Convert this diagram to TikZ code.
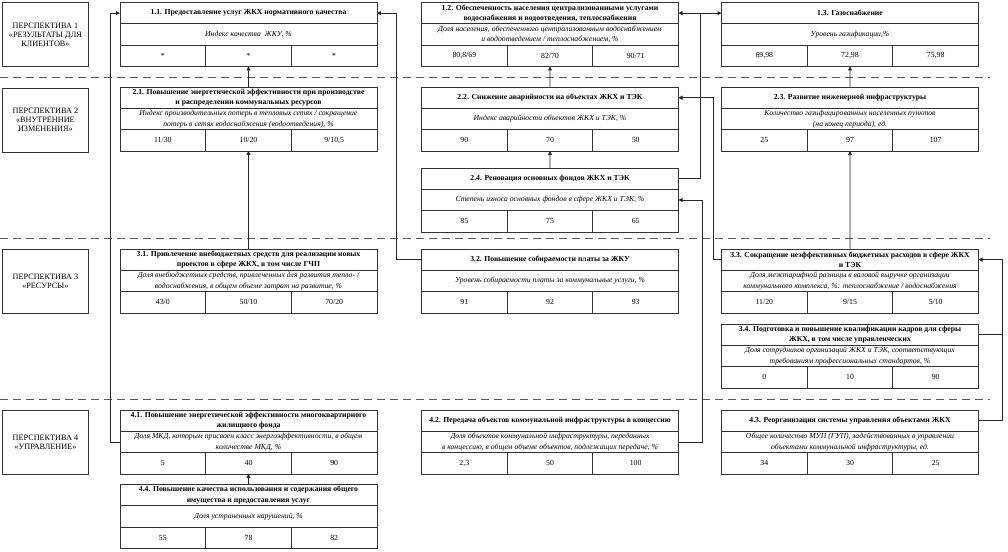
\documentclass[tikz,border=0pt]{standalone}
\usepackage{fontspec}
\setmainfont{Liberation Serif}
\usetikzlibrary{positioning,arrows.meta}

% one goal: title row, indicator row, three target values
\newcommand\kpibox[7]{%
    \node[titlecell, anchor=north west] (#1) at (#2) {#3};
    \node[indcell, below=0pt of #1] (#1-ind) {#4};
    \node[valcell, anchor=north west] (#1-a) at (#1-ind.south west) {#5};
    \node[valcell, right=0pt of #1-a] (#1-b) {#6};
    \node[valcell, right=0pt of #1-b] (#1-c) {#7};
}

\begin{document}
\begin{tikzpicture}[
        x=1pt, y=-1pt,
        titlecell/.style={draw=black!80, line width=0.8pt, minimum width=257pt, minimum height=21.33pt,
            inner sep=1pt, outer sep=0pt, align=center, font=\fontsize{7.7}{10.5}\selectfont\bfseries},
        indcell/.style={titlecell, font=\fontsize{7.7}{10.5}\selectfont\itshape},
        valcell/.style={titlecell, minimum width=85.67pt, font=\fontsize{7.8}{9}\selectfont},
        persp/.style={draw=black!80, line width=0.8pt, minimum width=86pt, minimum height=64pt, anchor=north west,
            inner sep=1pt, align=center, font=\fontsize{8.2}{9}\selectfont},
        sepline/.style={draw=black!65, line width=1pt, dash pattern=on 8pt off 5pt},
        wire/.style={draw=black!85, line width=0.9pt},
        link/.style={wire, -{Triangle[length=4pt,width=4pt]}},
    ]
    \useasboundingbox (0,0) rectangle (1008,551);

    % perspectives
    \node[persp] (p1) at (2,2) {ПЕРСПЕКТИВА 1\\«РЕЗУЛЬТАТЫ ДЛЯ\\КЛИЕНТОВ»};
    \node[persp] (p2) at (2,87.5) {ПЕРСПЕКТИВА 2\\«ВНУТРЕННИЕ\\ИЗМЕНЕНИЯ»};
    \node[persp] (p3) at (2,248.5) {ПЕРСПЕКТИВА 3\\«РЕСУРСЫ»};
    \node[persp] (p4) at (2,409.5) {ПЕРСПЕКТИВА 4\\«УПРАВЛЕНИЕ»};

    \draw[sepline] (0,77) -- (990,77);
    \draw[sepline] (0,238) -- (990,238);
    \draw[sepline] (0,399) -- (990,399);

    % perspective 1
    \kpibox{b11}{120,2.5}{1.1. Предоставление услуг ЖКХ нормативного качества}
        {Индекс качества\ \ ЖКУ, \%}{*}{*}{*}
    \kpibox{b12}{421.5,2.5}{1.2. Обеспеченность населения централизованными услугами\\водоснабжения и водоотведения, теплоснабжения}
        {Доля населения, обеспеченного централизованным водоснабжением\\и водоотведением / теплоснабжением, \%}{80,8/69}{82/70}{90/71}
    \kpibox{b13}{721.5,2.5}{1.3. Газоснабжение}
        {Уровень газификации,\%}{69,98}{72,98}{75,98}

    % perspective 2
    \kpibox{b21}{120,87}{2.1. Повышение энергетической эффективности при производстве\\и распределении коммунальных ресурсов}
        {Индекс производительных потерь в тепловых сетях / сокращение\\потерь в сетях водоснабжения (водоотведения), \%}{11/30}{10/20}{9/10,5}
    \kpibox{b22}{421.5,87}{2.2. Снижение аварийности на объектах ЖКХ и ТЭК}
        {Индекс аварийности объектов ЖКХ и ТЭК, \%}{90}{70}{50}
    \kpibox{b23}{721.5,87}{2.3. Развитие инженерной инфраструктуры}
        {Количество газифицированных населенных пунктов\\(на конец периода), ед.}{25}{97}{107}
    \kpibox{b24}{421.5,168}{2.4. Реновация основных фондов ЖКХ и ТЭК}
        {Степень износа основных фондов в сфере ЖКХ и ТЭК, \%}{85}{75}{65}

    % perspective 3
    \kpibox{b31}{120,249}{3.1. Привлечение внебюджетных средств для реализации новых\\проектов в сфере ЖКХ, в том числе ГЧП}
        {Доля внебюджетных средств, привлеченных для развития тепло- /\\водоснабжения, в общем объеме затрат на развитие, \%}{43/0}{50/10}{70/20}
    \kpibox{b32}{421.5,249}{3.2. Повышение собираемости платы за ЖКУ}
        {Уровень собираемости платы за коммунальные услуги, \%}{91}{92}{93}
    \kpibox{b33}{721.5,249}{3.3. Сокращение неэффективных бюджетных расходов в сфере ЖКХ\\и ТЭК}
        {Доля межтарифной разницы в валовой выручке организации\\коммунального комплекса, \%: теплоснабжение / водоснабжения}{11/20}{9/15}{5/10}
    \kpibox{b34}{721.5,324}{3.4. Подготовка и повышение квалификации кадров для сферы\\ЖКХ, в том числе управленческих}
        {Доля сотрудников организаций ЖКХ и ТЭК, соответствующих\\требованиям профессиональных стандартов, \%}{0}{10}{90}

    % perspective 4
    \kpibox{b41}{120,410}{4.1. Повышение энергетической эффективности многоквартирного\\жилищного фонда}
        {Доля МКД, которым присвоен класс энергоэффективности, в общем\\количестве МКД, \%}{5}{40}{90}
    \kpibox{b42}{421.5,410}{4.2. Передача объектов коммунальной инфраструктуры в концессию}
        {Доля объектов коммунальной инфраструктуры, переданных\\в концессию, в общем объеме объектов, подлежащих передаче, \%}{2,3}{50}{100}
    \kpibox{b43}{721.5,410}{4.3. Реорганизация системы управления объектами ЖКХ}
        {Общее количество МУП (ГУП), задействованных в управлении\\объектами коммунальной инфраструктуры, ед.}{34}{30}{25}
    \kpibox{b44}{120,484.5}{4.4. Повышение качества использования и содержания общего\\имущества и предоставления услуг}
        {Доля устраненных нарушений, \%}{55}{78}{82}

    % straight links
    \draw[link] (b21.north) -- (b11-b.south);
    \draw[link] (b31.north) -- (b21-b.south);
    \draw[link] (b44.north) -- (b41-b.south);
    \draw[link] (b22.north) -- (b12-b.south);
    \draw[link] (b24.north) -- (b22-b.south);
    \draw[link] (b23.north) -- (b13-b.south);
    \draw[link] (b33.north) -- (b23-b.south);

    % routed links
    \draw[link] (b41-ind.west) -| ([xshift=-10pt]b11.west) -- (b11.west);
    \draw[link] (b32.west) -| ([xshift=19pt]b11.east) -- (b11.east);
    \coordinate (fork) at ([xshift=22pt]b12.east);
    \draw[link] (b24.east) -| (fork) -- (b12.east);
    \draw[link] (fork) -- (b13.west);
    \draw[link] (b42-ind.east) -| ([xshift=24pt]b24-ind.east) -- (b24-ind.east);
    \draw[link] (b33.west) -| ([xshift=35pt]b22.east) -- (b22.east);
    \draw[link] (b43.east) -| ([xshift=24pt]b33.east) -- (b33.east);
    \draw[wire] (b34.east) -- ([xshift=24pt]b34.east);
\end{tikzpicture}
\end{document}
